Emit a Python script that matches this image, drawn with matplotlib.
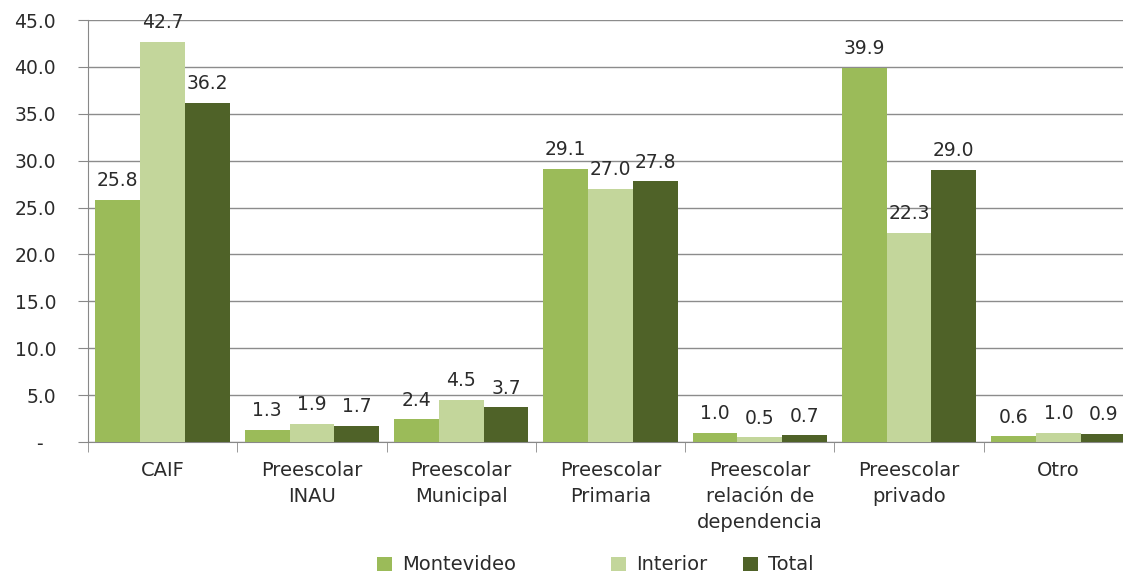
import matplotlib.pyplot as plt
import numpy as np

categorias = ["CAIF", "Preescolar\nINAU", "Preescolar\nMunicipal", "Preescolar\nPrimaria",
              "Preescolar\nrelación de\ndependencia", "Preescolar\nprivado", "Otro"]
montevideo = [25.8, 1.3, 2.4, 29.1, 1.0, 39.9, 0.6]
interior = [42.7, 1.9, 4.5, 27.0, 0.5, 22.3, 1.0]
total = [36.2, 1.7, 3.7, 27.8, 0.7, 29.0, 0.9]
series = ["Montevideo", "Interior", "Total"]
colores = ["#9BBB59", "#C3D69B", "#4F6228"]

plt.rcParams['font.family'] = ['DejaVu Sans']
texto = "#2b2b2b"

fig = plt.figure(figsize=(11.23, 5.73), dpi=100)
ax = fig.add_axes([88/1123, 131/573, 1045/1123, 422/573])

x = np.arange(len(categorias))
w = 0.3
barras_todas = []
for i, (vals, nombre, c) in enumerate(zip([montevideo, interior, total], series, colores)):
    pos = x + (i - 1) * w
    barras = ax.bar(pos, vals, w, color=c, label=nombre, zorder=3)
    barras_todas.append(barras)
    for b, v in zip(barras, vals):
        ax.annotate(f"{v:.1f}", (b.get_x() + b.get_width() / 2, v),
                    xytext=(0, 7), textcoords="offset points",
                    ha="center", va="bottom", fontsize=13.5, color=texto)

ax.set_xlim(-0.5, len(categorias) - 0.5)
ax.set_ylim(0, 45)
ax.set_yticks(np.arange(0, 46, 5))
ax.set_yticklabels(["-  "] + [f"{v:.1f}" for v in np.arange(5, 46, 5)])
ax.set_xticks(x)
ax.set_xticklabels(categorias)
ax.set_xticks(np.arange(-0.5, len(categorias), 1), minor=True)
ax.tick_params(axis="x", which="major", length=0, pad=14, labelsize=14, labelcolor=texto)
ax.tick_params(axis="x", which="minor", length=7, color="#888888", direction="out")
ax.tick_params(axis="y", length=7, color="#888888", labelsize=13.5, labelcolor=texto, pad=16)
for t in ax.get_xticklabels():
    t.set_linespacing(1.45)

ax.grid(axis="y", color="#8c8c8c", linewidth=1, zorder=0)
for s in ["top", "right"]:
    ax.spines[s].set_visible(False)
ax.spines["left"].set_color("#888888")
ax.spines["bottom"].set_color("#888888")

# leyenda: tres entradas colocadas como en el original
posiciones_leyenda = [377, 611, 743]
for barras, nombre, xl in zip(barras_todas, series, posiciones_leyenda):
    fig.legend([barras], [nombre], loc="center left", bbox_to_anchor=(xl / 1123, 8 / 573),
               frameon=False, fontsize=14, handlelength=0.75, handleheight=0.75,
               handletextpad=0.55, borderpad=0, borderaxespad=0, labelcolor=texto)

fig.savefig("out.png", dpi=100)
